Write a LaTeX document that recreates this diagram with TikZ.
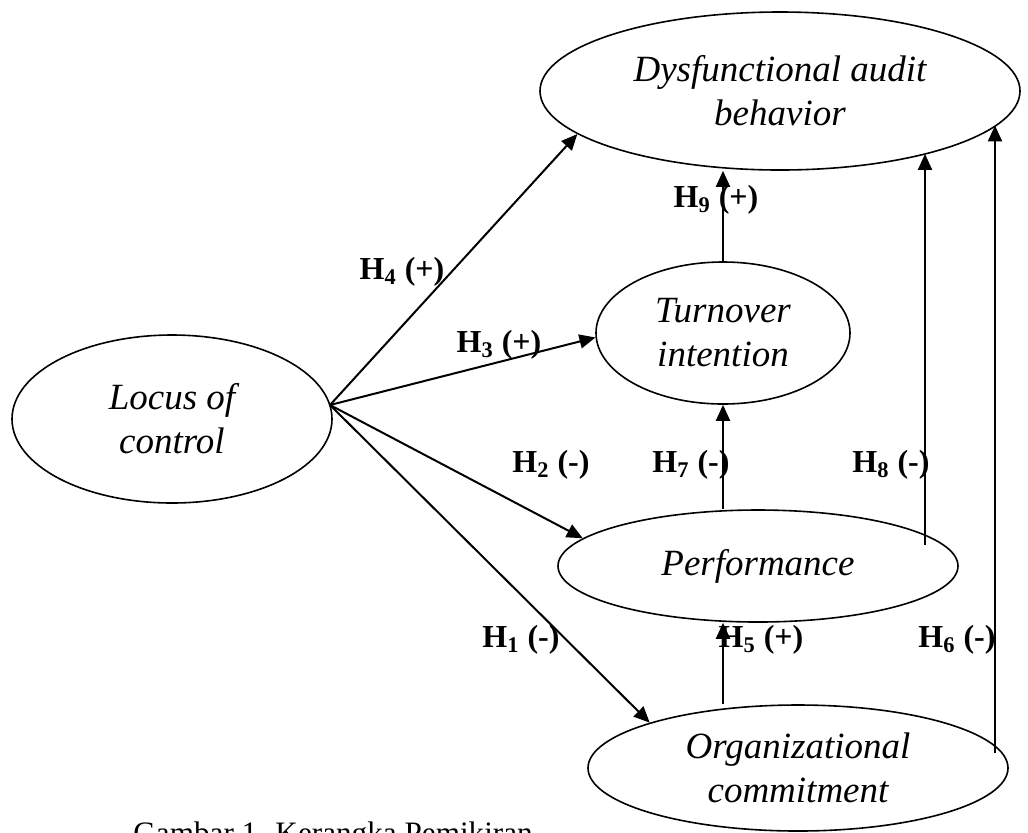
\documentclass[tikz,border=0pt]{standalone}
\usepackage{fontspec}
\setmainfont{Liberation Serif}
\usetikzlibrary{shapes.geometric,arrows.meta}
\begin{document}
\begin{tikzpicture}[x=0.5pt,y=-0.5pt,
  latent/.style={draw,ellipse,line width=0.8pt,inner sep=0pt,align=center,
    font=\fontsize{18.5}{22}\selectfont\itshape},
  conn/.style={line width=1pt,-{Triangle[length=8pt,width=7pt]}},
  hyp/.style={font=\fontsize{16}{18}\selectfont\bfseries,inner sep=0pt}]
\useasboundingbox (0,0) rectangle (1028,832);
\node[latent,minimum width=160pt,minimum height=84pt] (loc) at (172,419) {Locus of\\control};
\node[latent,minimum width=240pt,minimum height=79pt] (dys) at (780,91) {Dysfunctional audit\\behavior};
\node[latent,minimum width=127pt,minimum height=71pt] (tur) at (723,333) {Turnover\\intention};
\node[latent,minimum width=200pt,minimum height=56pt] (per) at (758,566) {Performance};
\node[latent,minimum width=210pt,minimum height=63pt] (org) at (798,768) {Organizational\\commitment};
\coordinate (lo) at (330,405);
\coordinate (h8s) at (925,545);
\coordinate (h6s) at (995,753);
\draw[conn] (lo) -- (dys.192.5);
\draw[conn] (lo) -- (tur.182);
\draw[conn] (lo) -- (per.171.6);
\draw[conn] (lo) -- (org.163.5);
\draw[conn] (tur.north) -- (tur.north |- dys.south);
\draw[conn] (tur.south |- per.north) -- (tur.south);
\draw[conn] (tur.south |- org.north) -- (tur.south |- per.south);
\draw[conn] (h8s) -- (h8s |- dys.-23.5);
\draw[conn] (h6s) -- (h6s |- dys.-9.25);
\node[hyp] (l4) at (402,272) {H\textsubscript{4} (+)};
\node[hyp] (l3) at (499,345) {H\textsubscript{3} (+)};
\node[hyp] (l2) at (551,465) {H\textsubscript{2} (-)};
\node[hyp] (l7) at (691,465) {H\textsubscript{7} (-)};
\node[hyp] (l8) at (891,465) {H\textsubscript{8} (-)};
\node[hyp] (l1) at (521,640) {H\textsubscript{1} (-)};
\node[hyp] (l5) at (761,640) {H\textsubscript{5} (+)};
\node[hyp] (l6) at (957,640) {H\textsubscript{6} (-)};
\node[hyp] (l9) at (716,200) {H\textsubscript{9} (+)};
\node[anchor=base west,inner sep=0pt,font=\fontsize{15.6}{18}\selectfont] (cap) at (133,843) {Gambar 1. Kerangka Pemikiran};
\end{tikzpicture}
\end{document}
